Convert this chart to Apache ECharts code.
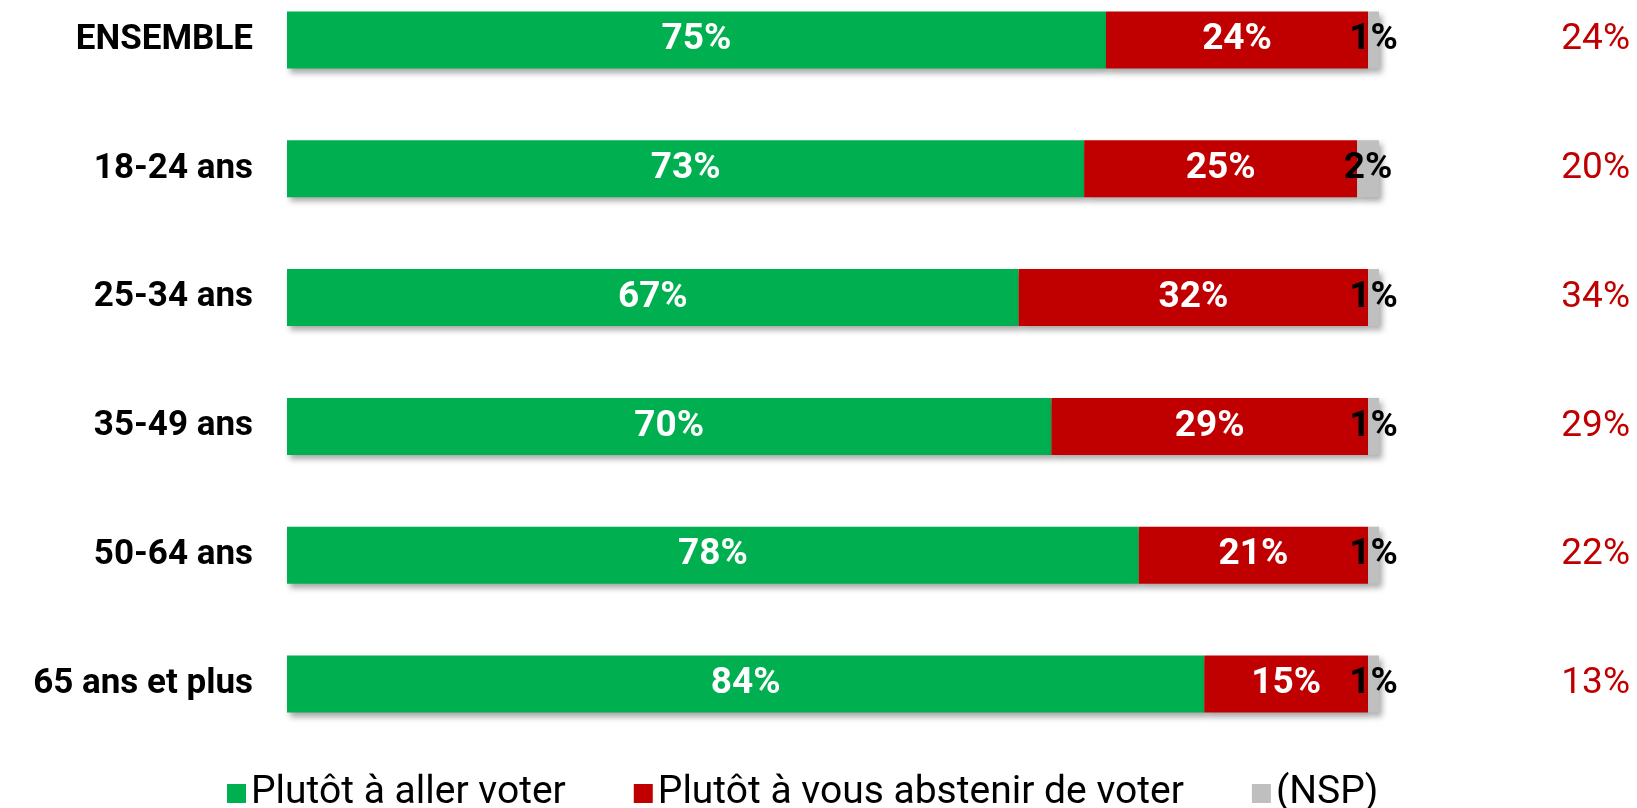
<!DOCTYPE html>
<html>
<head>
<meta charset="utf-8">
<script src="https://cdn.jsdelivr.net/npm/echarts@6/dist/echarts.min.js"></script>
<style>
  html, body { margin: 0; padding: 0; background: #fff; }
  #chart { width: 1637px; height: 808px; }
</style>
</head>
<body>
<div id="chart"></div>
<script>
// categories (top to bottom)
const categories = ['ENSEMBLE', '18-24 ans', '25-34 ans', '35-49 ans', '50-64 ans', '65 ans et plus'];
// series values, in %
const allerVoter = [75, 73, 67, 70, 78, 84];
const abstenir = [24, 25, 32, 29, 21, 15];
const nsp = [1, 2, 1, 1, 1, 1];
// red figures shown on the right
const rightLabels = ['24%', '20%', '34%', '29%', '22%', '13%'];

const FONT = 'Roboto, "DejaVu Sans", sans-serif';

const chart = echarts.init(document.getElementById('chart'));

const shadow = {
  shadowColor: 'rgba(0,0,0,0.35)',
  shadowBlur: 6,
  shadowOffsetX: 3,
  shadowOffsetY: 4
};

function barSeries(name, data, color, labelColor) {
  return {
    name: name,
    type: 'bar',
    stack: 'total',
    barWidth: 57,
    data: data,
    itemStyle: Object.assign({ color: color }, shadow),
    label: {
      show: true,
      position: 'inside',
      formatter: '{c}%',
      color: labelColor,
      fontFamily: FONT,
      fontWeight: 'bold',
      fontSize: 37
    },
    emphasis: { disabled: true }
  };
}

chart.setOption({
  animation: false,
  // category centres sit on the grid edges (boundaryGap false)
  grid: { left: 287, right: 258, top: 40, height: 644 },
  legend: {
    left: 222,
    top: 769,
    itemWidth: 19,
    itemHeight: 19,
    itemGap: 68,
    icon: 'rect',
    textStyle: { fontFamily: FONT, fontSize: 39, color: '#000' },
    data: ['Plutôt à aller voter', 'Plutôt à vous abstenir de voter', '(NSP)']
  },
  xAxis: {
    type: 'value',
    min: 0,
    max: 100,
    show: false
  },
  yAxis: [
    {
      type: 'category',
      data: categories,
      inverse: true,
      boundaryGap: false,
      axisLine: { show: false },
      axisTick: { show: false },
      axisLabel: {
        margin: 34,
        color: '#000',
        fontFamily: FONT,
        fontWeight: 'bold',
        fontSize: 35
      }
    },
    {
      type: 'category',
      data: rightLabels,
      inverse: true,
      boundaryGap: false,
      position: 'right',
      axisLine: { show: false },
      axisTick: { show: false },
      axisLabel: {
        margin: 251,
        align: 'right',
        color: '#C00000',
        fontFamily: FONT,
        fontSize: 37
      }
    }
  ],
  series: [
    barSeries('Plutôt à aller voter', allerVoter, '#00B050', '#fff'),
    barSeries('Plutôt à vous abstenir de voter', abstenir, '#C00000', '#fff'),
    barSeries('(NSP)', nsp, '#BFBFBF', '#000')
  ]
});
</script>
</body>
</html>
